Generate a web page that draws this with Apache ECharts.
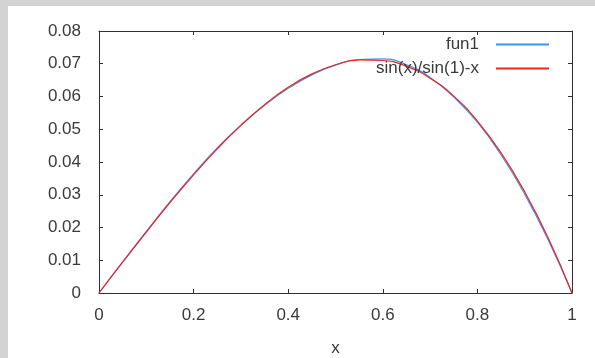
<!DOCTYPE html>
<html>
<head>
<meta charset="utf-8">
<script src="https://cdn.jsdelivr.net/npm/echarts@6/dist/echarts.min.js"></script>
<style>
html,body{margin:0;padding:0;background:#d3d3d3;width:595px;height:358px;overflow:hidden;}
#chart{position:absolute;left:8px;top:6px;width:587px;height:352px;background:#ffffff;}
</style>
</head>
<body>
<div id="chart"></div>
<script>
var xValues = [0, 0.05, 0.1, 0.15, 0.2, 0.25, 0.3, 0.35, 0.4, 0.45, 0.5, 0.55, 0.6, 0.65, 0.7, 0.75, 0.8, 0.85, 0.9, 0.95, 1];
var fun1Values = [0, 0.0095, 0.0188, 0.0279, 0.0364, 0.0443, 0.0512, 0.0573, 0.0625, 0.0666, 0.0696, 0.0713, 0.0715, 0.0697, 0.0658, 0.0598, 0.0522, 0.0422, 0.0302, 0.0161, 0];
var sinValues = [0, 0.0094, 0.0186, 0.0276, 0.0361, 0.0440, 0.0512, 0.0575, 0.0628, 0.0669, 0.0697, 0.0712, 0.0710, 0.0692, 0.0656, 0.0601, 0.0525, 0.0428, 0.0309, 0.0167, 0];
var seriesNames = ['fun1', 'sin(x)/sin(1)-x'];
var xTicks = {min: 0, max: 1, interval: 0.2};
var yTicks = {min: 0, max: 0.08, interval: 0.01};

function pairs(ys){ return xValues.map(function(x,i){ return [x, ys[i]]; }); }

var font = "'Liberation Sans', Arial, sans-serif";
var txt = '#3a3a3a';
var axisCol = '#303030';
var blue = '#3296f5';
var red = '#f02222';

function axisBase(extra){
  var o = {
    type: 'value',
    axisLine: {show: true, onZero: false, lineStyle: {color: axisCol, width: 1}},
    axisTick: {show: true, inside: true, length: 4, lineStyle: {color: axisCol}},
    splitLine: {show: false},
    axisLabel: {show: false}
  };
  for (var k in extra) o[k] = extra[k];
  return o;
}

function legendItem(name, top){
  return {data: [name], orient: 'vertical', align: 'right', right: 46, top: top,
    icon: 'rect', itemWidth: 53, itemHeight: 2, padding: 0,
    textStyle: {fontFamily: font, fontSize: 17, color: txt, padding: [0, 12, 0, 0]}};
}

var chart = echarts.init(document.getElementById('chart'), null, {renderer: 'canvas'});
chart.setOption({
  animation: false,
  backgroundColor: '#ffffff',
  grid: {left: 91, top: 25, right: 23, bottom: 65, containLabel: false, outerBoundsMode: 'none'},
  legend: [legendItem(seriesNames[0], 30), legendItem(seriesNames[1], 54)],
  xAxis: [
    axisBase({min: xTicks.min, max: xTicks.max, interval: xTicks.interval, position: 'bottom',
      name: 'x', nameLocation: 'middle', nameGap: 47,
      nameTextStyle: {fontFamily: font, fontSize: 17, color: txt},
      axisLabel: {show: true, margin: 14, fontFamily: font, fontSize: 17, color: txt}}),
    axisBase({min: xTicks.min, max: xTicks.max, interval: xTicks.interval, position: 'top'})
  ],
  yAxis: [
    axisBase({min: yTicks.min, max: yTicks.max, interval: yTicks.interval, position: 'left',
      axisLabel: {show: true, margin: 18, fontFamily: font, fontSize: 17, color: txt}}),
    axisBase({min: yTicks.min, max: yTicks.max, interval: yTicks.interval, position: 'right'})
  ],
  series: [
    {name: seriesNames[0], type: 'line', data: pairs(fun1Values), smooth: true, symbol: 'none',
     lineStyle: {color: blue, width: 1.2}, itemStyle: {color: blue}},
    {name: seriesNames[1], type: 'line', data: pairs(sinValues), smooth: true, symbol: 'none',
     lineStyle: {color: red, width: 1.2}, itemStyle: {color: red}}
  ]
});
</script>
</body>
</html>
